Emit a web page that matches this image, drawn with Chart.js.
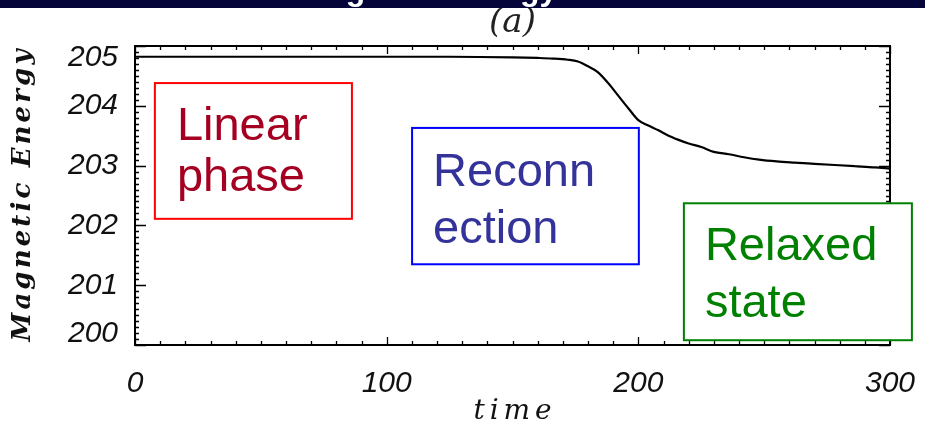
<!DOCTYPE html>
<html>
<head>
<meta charset="utf-8">
<script src="https://cdn.jsdelivr.net/npm/chart.js@4.4.1/dist/chart.umd.min.js"></script>
<style>
  html, body { margin: 0; padding: 0; background: #ffffff; overflow: hidden; }
  #wrap { width: 925px; height: 436px; }
</style>
</head>
<body>
<div id="wrap"><canvas id="c" width="925" height="436"></canvas></div>
<script>
// Magnetic energy versus time
const times = [0, 25, 50, 75, 100, 125, 150, 160, 166, 172, 176, 180, 184, 188, 192, 196, 200,
  204, 208, 212, 216, 220, 225, 230, 236, 242, 248, 255, 262, 270, 278, 286, 294, 300];
const energy = [204.82, 204.82, 204.82, 204.82, 204.82, 204.82, 204.81, 204.80, 204.79, 204.77,
  204.74, 204.66, 204.56, 204.38, 204.17, 203.96, 203.76, 203.67, 203.59, 203.50, 203.43,
  203.37, 203.31, 203.23, 203.19, 203.14, 203.10, 203.07, 203.05, 203.03, 203.01, 202.99,
  202.97, 202.95];

const xTickValues = [0, 100, 200, 300];
const yTickValues = [200, 201, 202, 203, 204, 205];

// Phase boxes, spans given in data units (time, energy)
const phaseNames = [['Linear', 'phase'], ['Reconn', 'ection'], ['Relaxed', 'state']];
const phaseTimeSpans = [[7.9, 86.2], [110.1, 200.2], [218.1, 308.7]];
const phaseEnergySpans = [[204.38, 202.11], [203.63, 201.35], [202.37, 200.08]];

const bannerTitle = 'Magnetic Energy';
const panelTitle = '(a)';
const xTitle = 'time';
const yTitle = 'Magnetic Energy';

const phaseStyles = [
  { border: '#ff0000', text: '#a50021', dx: 22, first: 57, gap: 51 },
  { border: '#0000ff', text: '#333399', dx: 21, first: 58, gap: 57 },
  { border: '#008000', text: '#008000', dx: 21, first: 57, gap: 57 }
];

// Draw text with its letters spread to a given total length, centred on (cx, cy)
function drawSpread(ctx, text, cx, cy, total) {
  const chars = Array.from(text);
  const widths = chars.map(ch => ctx.measureText(ch).width);
  const natural = widths.reduce((a, b) => a + b, 0);
  const extra = chars.length > 1 ? (total - natural) / (chars.length - 1) : 0;
  let x = cx - total / 2;
  ctx.textAlign = 'left';
  chars.forEach((ch, i) => {
    ctx.fillText(ch, x, cy);
    x += widths[i] + extra;
  });
}

const framePlugin = {
  id: 'frameAndTicks',
  beforeDraw(chart) {
    // pull the end labels of the energy axis inside the frame
    const items = chart.scales.y.getLabelItems(chart.chartArea);
    if (items.length && !items._nudged) {
      items[0].options.translation[1] -= 11;
      items[items.length - 1].options.translation[1] += 12;
      items._nudged = true;
    }
  },
  beforeDatasetsDraw(chart) {
    const { ctx, chartArea: a, scales: { x, y } } = chart;
    ctx.save();
    ctx.strokeStyle = '#000';
    ctx.lineWidth = 1.3;
    ctx.beginPath();
    // x ticks: minor every 10, major every 100, top and bottom, pointing inward
    for (let v = x.min; v <= x.max + 1e-6; v += 10) {
      const px = Math.round(x.getPixelForValue(v)) + 0.5;
      const len = (Math.round(v) % 100 === 0) ? 8 : 4;
      ctx.moveTo(px, a.bottom); ctx.lineTo(px, a.bottom - len);
      ctx.moveTo(px, a.top); ctx.lineTo(px, a.top + len);
    }
    // y ticks: minor every 0.1, major every 1, left and right
    for (let k = 0; k <= 50; k++) {
      const v = y.min + k * 0.1;
      const py = Math.round(y.getPixelForValue(v)) + 0.5;
      const len = (k % 10 === 0) ? 11 : 4;
      ctx.moveTo(a.left, py); ctx.lineTo(a.left + len, py);
      ctx.moveTo(a.right, py); ctx.lineTo(a.right - len, py);
    }
    ctx.stroke();
    ctx.lineWidth = 2;
    ctx.strokeRect(a.left, a.top, a.right - a.left, a.bottom - a.top);
    ctx.restore();
  },
  afterDraw(chart) {
    const { ctx, chartArea: a, scales: { x, y } } = chart;
    ctx.save();

    // axis titles
    ctx.fillStyle = '#111';
    ctx.textBaseline = 'middle';
    ctx.font = 'italic 28px "DejaVu Serif"';
    drawSpread(ctx, xTitle, (a.left + a.right) / 2, 412, 78);
    ctx.font = 'bold italic 26px "DejaVu Serif"';
    ctx.save();
    ctx.translate(23, (a.top + a.bottom) / 2);
    ctx.rotate(-Math.PI / 2);
    drawSpread(ctx, yTitle, 0, 0, 292);
    ctx.restore();

    // phase boxes
    phaseNames.forEach((lines, i) => {
      const st = phaseStyles[i];
      const x0 = x.getPixelForValue(phaseTimeSpans[i][0]);
      const x1 = x.getPixelForValue(phaseTimeSpans[i][1]);
      const y0 = y.getPixelForValue(phaseEnergySpans[i][0]);
      const y1 = y.getPixelForValue(phaseEnergySpans[i][1]);
      ctx.fillStyle = '#ffffff';
      ctx.fillRect(x0, y0, x1 - x0, y1 - y0);
      ctx.strokeStyle = st.border;
      ctx.lineWidth = 2;
      ctx.strokeRect(x0, y0, x1 - x0, y1 - y0);
      ctx.fillStyle = st.text;
      ctx.font = '47px "Liberation Sans", Arial, sans-serif';
      ctx.textAlign = 'left';
      ctx.textBaseline = 'alphabetic';
      lines.forEach((t, j) => ctx.fillText(t, x0 + st.dx, y0 + st.first + j * st.gap));
    });

    // banner across the top
    ctx.fillStyle = '#05053a';
    ctx.fillRect(0, 0, chart.width, 8);
    ctx.save();
    ctx.beginPath();
    ctx.rect(0, 0, chart.width, 8);
    ctx.clip();
    ctx.fillStyle = '#ffffff';
    ctx.font = 'bold 32px "Liberation Sans", Arial, sans-serif';
    ctx.textAlign = 'left';
    ctx.textBaseline = 'alphabetic';
    const lead = ctx.measureText('Magnetic Ener').width;
    ctx.fillText(bannerTitle, 520 - lead, 0);
    ctx.restore();

    ctx.restore();
  }
};

const tickFont = { family: '"Liberation Sans", Arial, sans-serif', style: 'italic', size: 30 };

new Chart(document.getElementById('c'), {
  type: 'line',
  data: {
    datasets: [{
      data: times.map((t, i) => ({ x: t, y: energy[i] })),
      borderColor: '#000000',
      borderWidth: 2.2,
      pointRadius: 0,
      fill: false,
      cubicInterpolationMode: 'monotone'
    }]
  },
  options: {
    responsive: false,
    devicePixelRatio: 1,
    animation: false,
    layout: { padding: { top: 0, right: 35, bottom: 0, left: 0 } },
    plugins: {
      legend: { display: false },
      tooltip: { enabled: false },
      title: {
        display: true,
        text: panelTitle,
        fullSize: false,
        color: '#222',
        font: { family: '"DejaVu Serif"', style: 'italic', size: 34, weight: 'normal' },
        padding: { top: 3, bottom: 2.2 }
      }
    },
    scales: {
      x: {
        type: 'linear',
        min: 0,
        max: 300,
        afterBuildTicks: s => { s.ticks = xTickValues.map(v => ({ value: v })); },
        afterFit: s => { s.height = 91; s.paddingLeft = 0; s.paddingRight = 0; },
        grid: { display: false, drawTicks: false },
        border: { display: false },
        ticks: { font: tickFont, color: '#111', padding: 21, maxRotation: 0 }
      },
      y: {
        type: 'linear',
        min: 200,
        max: 205,
        afterBuildTicks: s => { s.ticks = yTickValues.map(v => ({ value: v })); },
        afterFit: s => { s.width = 135; s.paddingTop = 0; s.paddingBottom = 0; },
        grid: { display: false, drawTicks: false },
        border: { display: false },
        ticks: { font: tickFont, color: '#111', padding: 17 }
      }
    }
  },
  plugins: [framePlugin]
});
</script>
</body>
</html>
